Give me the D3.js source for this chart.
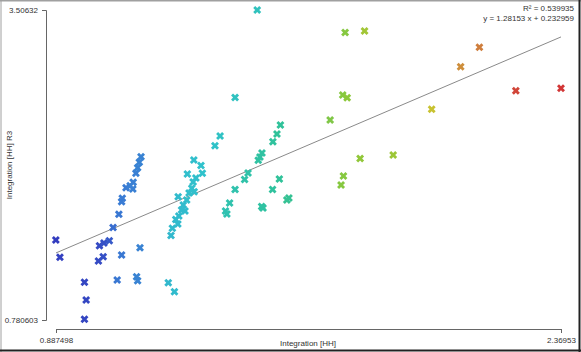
<!DOCTYPE html>
<html>
<head>
<meta charset="utf-8">
<script src="https://cdn.jsdelivr.net/npm/d3@7"></script>
<style>
  body { margin: 0; background: #fff; }
  text { font-family: "Liberation Sans", Arial, sans-serif; fill: #333; }
</style>
</head>
<body>
<div id="chart"></div>
<script>
// axis extremes shown as tick labels
const xTicks = [0.887498, 2.36953];
const yTicks = [0.780603, 3.50632];

// regression fit
const slope = 1.28153;
const intercept = 0.232959;
const rSquared = 0.539935;

// point values
const xValues = [
  0.887, 0.899, 0.971, 0.976, 0.971, 1.015, 1.028, 1.044, 1.012, 1.026,
  1.055, 1.080, 1.134, 1.067, 1.124, 1.127, 1.072, 1.080, 1.082, 1.093,
  1.105, 1.113, 1.114, 1.122, 1.127, 1.132, 1.137,
  1.217, 1.235, 1.369, 1.354, 1.292, 1.313, 1.317, 1.273, 1.290, 1.286,
  1.293, 1.246, 1.271, 1.261, 1.256, 1.248, 1.239, 1.229, 1.225,
  1.298, 1.278, 1.266, 1.245,
  1.413, 1.478, 1.546, 1.536, 1.524, 1.492, 1.481, 1.451, 1.441, 1.413,
  1.397, 1.385, 1.543, 1.523, 1.571, 1.491, 1.565, 1.495, 1.389, 1.486,
  1.736, 1.793, 1.729, 1.742, 1.692, 1.780, 1.877, 1.731, 1.724,
  1.990, 2.075, 2.130, 2.237, 2.3695
];
const yValues = [
  1.484, 1.332, 1.112, 0.956, 0.787, 1.434, 1.458, 1.478, 1.299, 1.337,
  1.594, 1.352, 1.416, 1.132, 1.161, 1.126, 1.710, 1.821, 1.851, 1.944,
  1.961, 1.932, 1.991, 2.071, 2.120, 2.167, 2.216,
  1.109, 1.029, 2.398, 2.313, 2.187, 2.139, 2.071, 2.064, 1.994, 1.939,
  1.909, 1.865, 1.836, 1.792, 1.748, 1.695, 1.664, 1.587, 1.524,
  2.029, 1.897, 1.739, 1.625,
  2.737, 3.506, 2.495, 2.416, 2.348, 2.249, 2.185, 2.073, 2.016, 1.928,
  1.809, 1.739, 2.020, 1.928, 1.853, 1.779, 1.836, 1.765, 1.713, 2.214,
  3.309, 3.322, 2.759, 2.735, 2.539, 2.201, 2.231, 2.047, 1.968,
  2.633, 3.008, 3.178, 2.797, 2.818
];
// colour value per point (0 = dark blue ... 1 = red)
const colourValues = [
  0.02, 0.03, 0.04, 0.04, 0.04, 0.05, 0.06, 0.08, 0.05, 0.06,
  0.12, 0.14, 0.17, 0.14, 0.17, 0.17, 0.14, 0.15, 0.15, 0.15,
  0.16, 0.16, 0.16, 0.16, 0.17, 0.17, 0.17,
  0.32, 0.33, 0.37, 0.36, 0.34, 0.35, 0.35, 0.34, 0.34, 0.34,
  0.34, 0.33, 0.34, 0.33, 0.33, 0.33, 0.33, 0.33, 0.32,
  0.34, 0.34, 0.33, 0.33,
  0.38, 0.39, 0.48, 0.48, 0.47, 0.46, 0.46, 0.44, 0.44, 0.43,
  0.43, 0.42, 0.48, 0.47, 0.49, 0.46, 0.49, 0.46, 0.42, 0.46,
  0.62, 0.67, 0.62, 0.63, 0.61, 0.64, 0.66, 0.62, 0.62,
  0.74, 0.83, 0.86, 0.97, 1.0
];

const W = 581, H = 352;

const svg = d3.select("#chart").append("svg")
  .attr("width", W)
  .attr("height", H);

const x = d3.scaleLinear().domain(xTicks).range([56, 561]);
const y = d3.scaleLinear().domain(yTicks).range([320, 10]);

const colour = d3.scaleLinear()
  .domain([0, 0.15, 0.35, 0.48, 0.63, 0.74, 0.85, 1])
  .range(["#3232bc", "#3a7cd4", "#30c2cc", "#30c29a", "#8cc83a", "#c8c230", "#cf833e", "#d23636"]);

// window frame
svg.append("line").attr("x1", 0).attr("x2", W).attr("y1", 0.5).attr("y2", 0.5)
  .attr("stroke", "#a0a0a0").attr("stroke-width", 2);
svg.append("line").attr("x1", 1).attr("x2", 1).attr("y1", 0).attr("y2", H)
  .attr("stroke", "#a0a0a0").attr("stroke-width", 1);
svg.append("line").attr("x1", 579.5).attr("x2", 579.5).attr("y1", 0).attr("y2", H)
  .attr("stroke", "#222").attr("stroke-width", 2);
svg.append("line").attr("x1", 0).attr("x2", W).attr("y1", 350.5).attr("y2", 350.5)
  .attr("stroke", "#222").attr("stroke-width", 2);

// axes
const xAxis = d3.axisBottom(x).tickValues(xTicks).tickSize(4).tickPadding(4)
  .tickFormat(d => d);
const yAxis = d3.axisLeft(y).tickValues(yTicks).tickSize(4).tickPadding(4)
  .tickFormat(d => d);

const gx = svg.append("g").attr("transform", "translate(0,329)").call(xAxis);
const gy = svg.append("g").attr("transform", "translate(46,0)").call(yAxis);

[gx, gy].forEach(g => {
  g.selectAll("path, line").attr("stroke", "#666");
  g.selectAll("text").attr("font-size", 8).attr("fill", "#333")
    .style("font-family", "Liberation Sans, Arial, sans-serif");
});

svg.append("text")
  .attr("x", 308).attr("y", 346)
  .attr("text-anchor", "middle")
  .attr("font-size", 8)
  .text("Integration [HH]");

svg.append("text")
  .attr("transform", "translate(12,165) rotate(-90)")
  .attr("text-anchor", "middle")
  .attr("font-size", 8)
  .text("Integration [HH] R3");

// regression line
svg.append("line")
  .attr("x1", x(xTicks[0])).attr("y1", y(slope * xTicks[0] + intercept))
  .attr("x2", x(xTicks[1])).attr("y2", y(slope * xTicks[1] + intercept))
  .attr("stroke", "#8a8a8a").attr("stroke-width", 1);

// points
const points = xValues.map((v, i) => ({x: v, y: yValues[i], c: colourValues[i]}));
const cross = d3.symbol().type(d3.symbolCross).size(40);

svg.selectAll(".pt")
  .data(points)
  .enter()
  .append("path")
  .attr("class", "pt")
  .attr("d", cross)
  .attr("transform", d => "translate(" + x(d.x) + "," + y(d.y) + ") rotate(45)")
  .attr("fill", d => colour(d.c));

// fit text
svg.append("text")
  .attr("x", 574).attr("y", 11)
  .attr("text-anchor", "end")
  .attr("font-size", 8)
  .text("R\u00b2 = " + rSquared);
svg.append("text")
  .attr("x", 574).attr("y", 21)
  .attr("text-anchor", "end")
  .attr("font-size", 8)
  .text("y = " + slope + " x + " + intercept);
</script>
</body>
</html>
